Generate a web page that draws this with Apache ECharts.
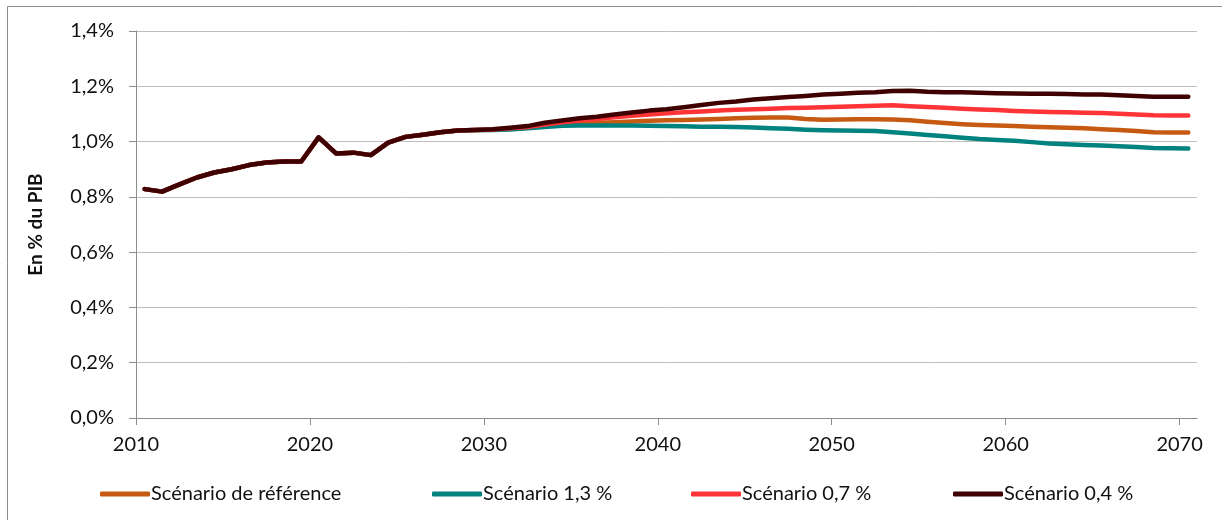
<!DOCTYPE html>
<html>

<head>
    <meta charset="UTF-8">
    <title>Dépenses en % du PIB - scénarios</title>
    <script src="https://cdn.jsdelivr.net/npm/echarts@6/dist/echarts.min.js"></script>
    <style>
        html, body { margin: 0; padding: 0; background: #fff; }
        #chartBox { width: 1222px; height: 520px; }
    </style>
</head>

<body>
    <div id="chartBox"></div>

    <script>
        // années (un point par année, placé au milieu de l'intervalle)
        var years = [];
        for (var y = 2010; y <= 2070; y++) years.push(y);

        var tickYears = [2010, 2020, 2030, 2040, 2050, 2060, 2070];

        // partie commune 2010-2029
        var commun = [0.828, 0.819, 0.845, 0.870, 0.888, 0.900, 0.915, 0.924, 0.928, 0.928,
            1.015, 0.957, 0.960, 0.951, 0.996, 1.017, 1.025, 1.034, 1.040, 1.042];

        // 2030-2070 par scénario
        var reference = [1.043, 1.046, 1.050, 1.056, 1.061, 1.065, 1.068, 1.070, 1.073, 1.075,
            1.077, 1.078, 1.080, 1.082, 1.084, 1.086, 1.087, 1.087, 1.082, 1.079,
            1.080, 1.081, 1.081, 1.080, 1.077, 1.072, 1.067, 1.063, 1.060, 1.058,
            1.056, 1.054, 1.052, 1.050, 1.048, 1.045, 1.042, 1.038, 1.034, 1.033, 1.033];

        var scen13 = [1.042, 1.044, 1.048, 1.053, 1.057, 1.058, 1.058, 1.058, 1.058, 1.057,
            1.056, 1.055, 1.054, 1.054, 1.053, 1.051, 1.048, 1.046, 1.043, 1.041,
            1.040, 1.039, 1.038, 1.034, 1.029, 1.024, 1.019, 1.014, 1.009, 1.006,
            1.003, 0.998, 0.993, 0.990, 0.988, 0.986, 0.983, 0.980, 0.977, 0.976, 0.975];

        var scen07 = [1.044, 1.048, 1.053, 1.062, 1.070, 1.076, 1.082, 1.088, 1.093, 1.098,
            1.102, 1.106, 1.109, 1.112, 1.115, 1.117, 1.119, 1.121, 1.122, 1.124,
            1.126, 1.128, 1.130, 1.131, 1.128, 1.125, 1.122, 1.119, 1.116, 1.114,
            1.111, 1.109, 1.107, 1.106, 1.104, 1.103, 1.101, 1.098, 1.095, 1.094, 1.094];

        var scen04 = [1.045, 1.050, 1.056, 1.068, 1.076, 1.084, 1.090, 1.098, 1.105, 1.112,
            1.117, 1.124, 1.132, 1.140, 1.145, 1.152, 1.157, 1.161, 1.165, 1.170,
            1.173, 1.177, 1.178, 1.183, 1.184, 1.180, 1.178, 1.178, 1.177, 1.175,
            1.174, 1.173, 1.173, 1.172, 1.170, 1.170, 1.168, 1.165, 1.162, 1.162, 1.162];

        var names = ['Scénario de référence', 'Scénario 1,3 %', 'Scénario 0,7 %', 'Scénario 0,4 %'];
        var colors = ['#C65A13', '#00827E', '#FF3437', '#3E0000'];
        var seriesValues = [reference, scen13, scen07, scen04];

        var fontName = 'Lato, "Open Sans", sans-serif';
        var textColor = '#111';

        function toPoints(values) {
            var all = commun.concat(values);
            return years.map(function (yr, i) {
                return [yr + 0.5, all[i]];
            });
        }

        var myChart = echarts.init(document.getElementById('chartBox'));

        var legendLeft = [100, 432, 691, 953];

        var option = {
            backgroundColor: '#fff',
            animation: false,
            color: colors,
            textStyle: { fontFamily: fontName },
            grid: {
                left: 136,
                right: 25,
                top: 31,
                bottom: 102
            },
            graphic: [{
                type: 'line',
                shape: { x1: 7.5, y1: 6.5, x2: 7.5, y2: 520 },
                style: { stroke: '#8c8c8c', lineWidth: 1 }
            }, {
                type: 'line',
                shape: { x1: 7.5, y1: 6.5, x2: 1222, y2: 6.5 },
                style: { stroke: '#8c8c8c', lineWidth: 1 }
            }],
            legend: names.map(function (n, i) {
                return {
                    data: [n],
                    left: legendLeft[i],
                    top: 484,
                    padding: 0,
                    icon: 'roundRect',
                    itemWidth: 50,
                    itemHeight: 5,
                    itemGap: 0,
                    textStyle: {
                        fontSize: 20,
                        color: textColor,
                        fontFamily: fontName,
                        padding: [0, 0, 0, -4]
                    }
                };
            }),
            xAxis: {
                type: 'value',
                min: 2010,
                max: 2071,
                interval: 10,
                splitLine: { show: false },
                axisLine: { lineStyle: { color: '#8c8c8c', width: 1 } },
                axisTick: {
                    show: true,
                    length: 7,
                    customValues: tickYears,
                    lineStyle: { color: '#8c8c8c' }
                },
                axisLabel: {
                    customValues: tickYears,
                    margin: 17,
                    fontSize: 20,
                    color: textColor,
                    fontFamily: fontName,
                    formatter: function (v) { return String(v); }
                }
            },
            yAxis: {
                type: 'value',
                min: 0,
                max: 1.4,
                interval: 0.2,
                name: 'En % du PIB',
                nameLocation: 'middle',
                nameRotate: 90,
                nameGap: 91,
                nameTextStyle: {
                    fontSize: 19,
                    fontWeight: 'bold',
                    color: textColor,
                    fontFamily: fontName
                },
                axisLine: { show: true, lineStyle: { color: '#8c8c8c', width: 1 } },
                axisTick: { show: true, length: 7, lineStyle: { color: '#8c8c8c' } },
                splitLine: { show: true, lineStyle: { color: '#bfbfbf', width: 1 } },
                axisLabel: {
                    margin: 22,
                    fontSize: 20,
                    color: textColor,
                    fontFamily: fontName,
                    formatter: function (v) {
                        return v.toFixed(1).replace('.', ',') + '%';
                    }
                }
            },
            series: seriesValues.map(function (vals, i) {
                return {
                    name: names[i],
                    type: 'line',
                    symbol: 'none',
                    z: 2 + i,
                    lineStyle: { width: 4.5, color: colors[i], cap: 'round', join: 'round' },
                    itemStyle: { color: colors[i] },
                    data: toPoints(vals)
                };
            })
        };

        myChart.setOption(option);
    </script>

</body>

</html>
